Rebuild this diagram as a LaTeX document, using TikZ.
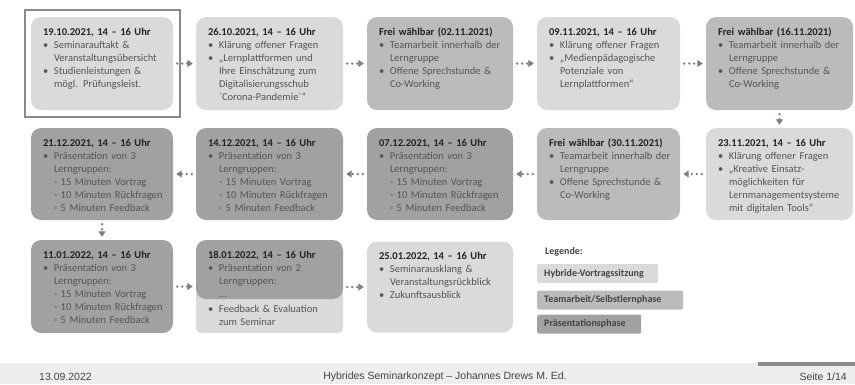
\documentclass[tikz,border=0pt]{standalone}
\usepackage{fontspec}
\setmainfont{Carlito}[Ligatures=TeXOff]
\newfontfamily\footfont{Liberation Sans}[FakeStretch=1.0]
\usetikzlibrary{arrows.meta}
\definecolor{lightc}{HTML}{DADADA}
\definecolor{midc}{HTML}{BBBBBB}
\definecolor{darkc}{HTML}{A1A1A1}
\definecolor{textc}{HTML}{555555}
\definecolor{titlec}{HTML}{222222}
\definecolor{arrc}{HTML}{7F7F7F}
\definecolor{framec}{HTML}{8A8A8A}
\definecolor{footc}{HTML}{EEEEEE}
\definecolor{foott}{HTML}{444444}
\newcommand\bl{\makebox[11pt][l]{\textbullet}}
\newcommand\ind{\hspace*{11pt}}
\newcommand\ttl[1]{{\bfseries\color{titlec}#1}}
\begin{document}
\begin{tikzpicture}[x=1pt,y=-1pt,
  box/.style={rounded corners=10pt, inner sep=0pt, draw=none},
  hyb/.style={box, fill=lightc},
  team/.style={box, fill=midc},
  pres/.style={box, fill=darkc},
  txt/.style={anchor=north west, inner sep=0pt, text width=200pt, align=left,
    font=\fontsize{10.5}{13}\selectfont, text=textc},
  arr/.style={arrc, line width=2.6pt, line cap=round, dash pattern=on 0pt off 5pt,
    shorten <=4pt, shorten >=3pt, -{Triangle[length=5.5pt, width=7pt]}},
  legbox/.style={rounded corners=2pt, inner xsep=7pt, inner ysep=0pt, anchor=west,
    minimum height=19pt, align=left,
    font=\fontsize{10}{12}\selectfont\bfseries, text=titlec!85!white},
  foot/.style={inner sep=0pt, font=\footfont\fontsize{10.5}{12}\selectfont, text=foott}
]
\useasboundingbox (0,0) rectangle (855,384);

% ---------- Row 1 ----------
\node[hyb, minimum width=142pt, minimum height=93pt] (b1) at (102,63.5) {};
\node[txt] (t1) at ([xshift=12pt,yshift=-11pt]b1.north west) {\ttl{19.10.2021, 14 – 16 Uhr}\\
\bl Seminarauftakt \&\\ \ind Veranstaltungsübersicht\\
\bl Studienleistungen \&\\ \ind mögl. Prüfungsleist.};
\node[draw=framec, line width=1.8pt, minimum width=155pt, minimum height=107pt, inner sep=0pt] (fr) at (102.5,63.5) {};

\node[hyb, minimum width=147pt, minimum height=93pt] (b2) at (269.5,63.5) {};
\node[txt] (t2) at ([xshift=12pt,yshift=-11pt]b2.north west) {\ttl{26.10.2021, 14 – 16 Uhr}\\
\bl Klärung offener Fragen\\
\bl „Lernplattformen und\\ \ind Ihre Einschätzung zum\\ \ind Digitalisierungsschub\\ \ind `Corona-Pandemie´“};

\node[team, minimum width=146pt, minimum height=93pt] (b3) at (440,63.5) {};
\node[txt] (t3) at ([xshift=12pt,yshift=-11pt]b3.north west) {\ttl{Frei wählbar (02.11.2021)}\\
\bl Teamarbeit innerhalb der\\ \ind Lerngruppe\\
\bl Offene Sprechstunde \&\\ \ind Co-Working};

\node[hyb, minimum width=143pt, minimum height=93pt] (b4) at (608.5,63.5) {};
\node[txt] (t4) at ([xshift=12pt,yshift=-11pt]b4.north west) {\ttl{09.11.2021, 14 – 16 Uhr}\\
\bl Klärung offener Fragen\\
\bl „Medienpädagogische\\ \ind Potenziale von\\ \ind Lernplattformen“};

\node[team, minimum width=147pt, minimum height=93pt] (b5) at (779.5,63.5) {};
\node[txt] (t5) at ([xshift=12pt,yshift=-11pt]b5.north west) {\ttl{Frei wählbar (16.11.2021)}\\
\bl Teamarbeit innerhalb der\\ \ind Lerngruppe\\
\bl Offene Sprechstunde \&\\ \ind Co-Working};

% ---------- Row 2 ----------
\node[pres, minimum width=142pt, minimum height=92pt] (c1) at (102,174) {};
\node[txt] (u1) at ([xshift=12pt,yshift=-11pt]c1.north west) {\ttl{21.12.2021, 14 – 16 Uhr}\\
\bl Präsentation von 3\\ \ind Lerngruppen:\\ \ind - 15 Minuten Vortrag\\ \ind - 10 Minuten Rückfragen\\ \ind - 5 Minuten Feedback};

\node[pres, minimum width=147pt, minimum height=92pt] (c2) at (269.5,174) {};
\node[txt] (u2) at ([xshift=12pt,yshift=-11pt]c2.north west) {\ttl{14.12.2021, 14 – 16 Uhr}\\
\bl Präsentation von 3\\ \ind Lerngruppen:\\ \ind - 15 Minuten Vortrag\\ \ind - 10 Minuten Rückfragen\\ \ind - 5 Minuten Feedback};

\node[pres, minimum width=146pt, minimum height=92pt] (c3) at (440,174) {};
\node[txt] (u3) at ([xshift=12pt,yshift=-11pt]c3.north west) {\ttl{07.12.2021, 14 – 16 Uhr}\\
\bl Präsentation von 3\\ \ind Lerngruppen:\\ \ind - 15 Minuten Vortrag\\ \ind - 10 Minuten Rückfragen\\ \ind - 5 Minuten Feedback};

\node[team, minimum width=143pt, minimum height=92pt] (c4) at (608.5,174) {};
\node[txt] (u4) at ([xshift=12pt,yshift=-11pt]c4.north west) {\ttl{Frei wählbar (30.11.2021)}\\
\bl Teamarbeit innerhalb der\\ \ind Lerngruppe\\
\bl Offene Sprechstunde \&\\ \ind Co-Working};

\node[hyb, minimum width=147pt, minimum height=92pt] (c5) at (779.5,174) {};
\node[txt] (u5) at ([xshift=12pt,yshift=-11pt]c5.north west) {\ttl{23.11.2021, 14 – 16 Uhr}\\
\bl Klärung offener Fragen\\
\bl „Kreative Einsatz-\\ \ind möglichkeiten für\\ \ind Lernmanagementsysteme\\ \ind mit digitalen Tools“};

% ---------- Row 3 ----------
\node[pres, minimum width=142pt, minimum height=93pt] (d1) at (102,286.5) {};
\node[txt] (v1) at ([xshift=12pt,yshift=-11pt]d1.north west) {\ttl{11.01.2022, 14 – 16 Uhr}\\
\bl Präsentation von 3\\ \ind Lerngruppen:\\ \ind - 15 Minuten Vortrag\\ \ind - 10 Minuten Rückfragen\\ \ind - 5 Minuten Feedback};

\node[box, fill=lightc, rounded corners=5pt, minimum width=147pt, minimum height=44pt] (d2b) at (269.5,311) {};
\node[pres, minimum width=147pt, minimum height=59pt] (d2) at (269.5,269.5) {};
\node[txt] (v2) at ([xshift=12pt,yshift=-11pt]d2.north west) {\ttl{18.01.2022, 14 – 16 Uhr}\\
\bl Präsentation von 2\\ \ind Lerngruppen:\\ \ind ...};
\node[txt] (v2b) at ([xshift=12pt,yshift=-6pt]d2.south west) {\bl Feedback \& Evaluation\\ \ind zum Seminar};

\node[hyb, minimum width=146pt, minimum height=91pt] (d3) at (440,287) {};
\node[txt] (v3) at ([xshift=12pt,yshift=-11pt]d3.north west) {\ttl{25.01.2022, 14 – 16 Uhr}\\
\bl Seminarausklang \&\\ \ind Veranstaltungsrückblick\\
\bl Zukunftsausblick};

% ---------- Legend ----------
\node[anchor=west, inner sep=0pt, font=\fontsize{10}{12}\selectfont\bfseries, text=titlec!85!white] (leg) at (545,252) {Legende:};
\node[legbox, fill=lightc, text width=107pt] (l1) at (537,273.5) {Hybride-Vortragssitzung};
\node[legbox, fill=midc, text width=132pt] (l2) at (537,300) {Teamarbeit/Selbstlernphase};
\node[legbox, fill=darkc, text width=90pt] (l3) at (537,324) {Präsentationsphase};

% ---------- Arrows ----------
\draw[arr] (b1.east) -- (b2.west);
\draw[arr] (b2.east) -- (b3.west);
\draw[arr] (b3.east) -- (b4.west);
\draw[arr] (b4.east) -- (b5.west);
\draw[arr] (b5.south) -- (c5.north);
\draw[arr] (c5.west) -- (c4.east);
\draw[arr] (c4.west) -- (c3.east);
\draw[arr] (c3.west) -- (c2.east);
\draw[arr] (c2.west) -- (c1.east);
\draw[arr] (c1.south) -- (d1.north);
\draw[arr] (d1.east) -- (d1.east -| d2.west);
\draw[arr] (d3.west -| d2.east) -- (d3.west);

% ---------- Footer ----------
\fill[footc] (0,363) rectangle (855,384);
\fill[arrc!90!white] (758,362) rectangle (855,366);
\node[foot, anchor=west] (f1) at (39,377) {13.09.2022};
\node[foot] (f2) at (445,377) {Hybrides Seminarkonzept – Johannes Drews M. Ed.};
\node[foot, anchor=east] (f3) at (847,377) {Seite 1/14};
\end{tikzpicture}
\end{document}
